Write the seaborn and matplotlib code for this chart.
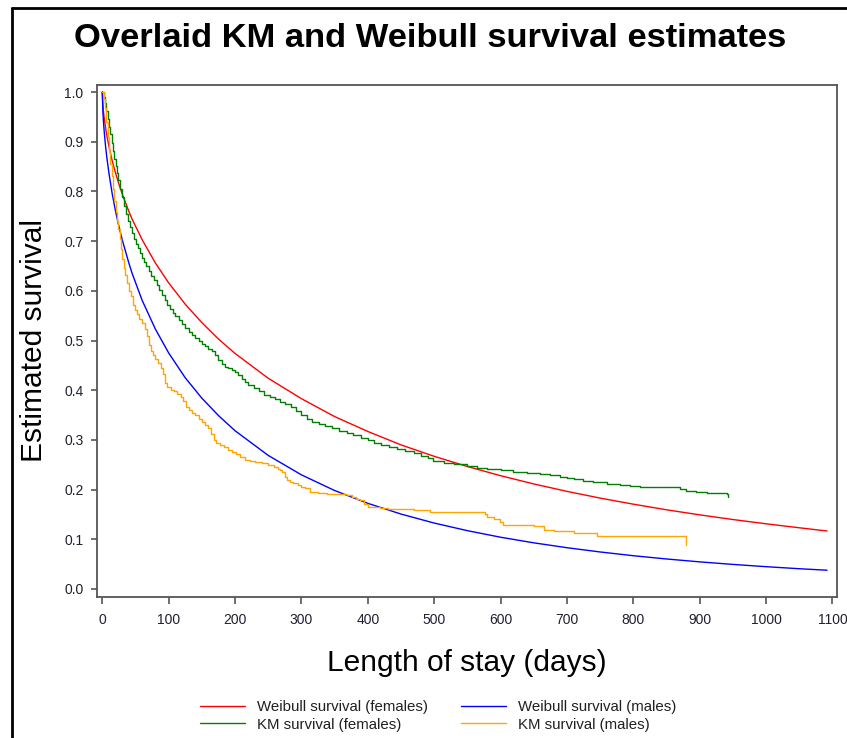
import matplotlib
matplotlib.use("Agg")
import matplotlib.pyplot as plt
from matplotlib.lines import Line2D
import seaborn as sns
import numpy as np
import pandas as pd

# ---------------- data ----------------
wb_time = [0, 1, 2, 3, 5, 7, 10, 15, 20, 25, 30, 40, 45, 60, 80, 100, 125, 150,
           175, 200, 250, 300, 350, 400, 450, 500, 550, 600, 650, 700, 750, 800,
           850, 900, 950, 1000, 1050, 1092]
wb_female = [1.0, 0.973, 0.958, 0.947, 0.928, 0.911, 0.891, 0.861, 0.837, 0.815,
             0.795, 0.760, 0.744, 0.703, 0.656, 0.616, 0.573, 0.536, 0.503, 0.474,
             0.424, 0.383, 0.347, 0.317, 0.290, 0.267, 0.2465, 0.228, 0.2114,
             0.1965, 0.1829, 0.1707, 0.1594, 0.1492, 0.1398, 0.1312, 0.1232, 0.1167]
wb_male = [1.0, 0.958, 0.936, 0.919, 0.890, 0.867, 0.837, 0.795, 0.760, 0.730,
           0.703, 0.656, 0.635, 0.581, 0.523, 0.475, 0.425, 0.384, 0.349, 0.3185,
           0.2688, 0.2297, 0.1982, 0.1724, 0.1508, 0.1327, 0.1174, 0.1042, 0.0929,
           0.0831, 0.0745, 0.0670, 0.0604, 0.0546, 0.0495, 0.0449, 0.0408, 0.0378]

km_f_time = [0, 2, 4, 6, 8, 10, 12, 14, 16, 18, 20, 22, 24, 27, 30, 33, 36, 39,
             42, 45, 48, 51, 54, 57, 60, 63, 66, 70, 74, 78, 82, 86, 90, 94, 98,
             102, 106, 110, 115, 120, 125, 130, 135, 140, 145, 150, 155, 160, 165,
             170, 175, 180, 185, 190, 195, 200, 205, 210, 215, 220, 228, 236, 244,
             252, 260, 268, 276, 284, 292, 300, 308, 316, 326, 336, 346, 356, 368,
             378, 390, 400, 410, 420, 432, 444, 456, 469, 480, 490, 499, 515, 530,
             549, 565, 580, 600, 619, 640, 660, 675, 690, 700, 710, 725, 740, 760,
             780, 795, 810, 870, 880, 895, 911, 941, 943]
km_f_surv = [1.0, 0.99, 0.977, 0.962, 0.945, 0.93, 0.915, 0.898, 0.882, 0.866,
             0.851, 0.837, 0.823, 0.805, 0.789, 0.771, 0.754, 0.741, 0.728, 0.716,
             0.705, 0.695, 0.686, 0.677, 0.667, 0.657, 0.649, 0.639, 0.63, 0.621,
             0.612, 0.601, 0.591, 0.582, 0.572, 0.564, 0.556, 0.55, 0.541, 0.533,
             0.525, 0.518, 0.511, 0.505, 0.499, 0.493, 0.488, 0.483, 0.478, 0.47,
             0.46, 0.452, 0.447, 0.444, 0.441, 0.436, 0.43, 0.423, 0.416, 0.41,
             0.404, 0.398, 0.391, 0.386, 0.382, 0.377, 0.372, 0.366, 0.359, 0.35,
             0.342, 0.336, 0.332, 0.328, 0.323, 0.318, 0.313, 0.309, 0.304, 0.299,
             0.294, 0.29, 0.286, 0.282, 0.278, 0.273, 0.268, 0.263, 0.258, 0.254,
             0.252, 0.2475, 0.244, 0.241, 0.239, 0.236, 0.234, 0.232, 0.229, 0.226,
             0.223, 0.221, 0.218, 0.215, 0.211, 0.209, 0.207, 0.205, 0.2005, 0.198,
             0.196, 0.194, 0.191, 0.185]

km_m_time = [0, 2, 4, 6, 8, 10, 12, 14, 16, 18, 20, 22, 24, 26, 28, 30, 32, 34,
             37, 40, 43, 46, 49, 52, 56, 60, 64, 67, 70, 73, 76, 80, 84, 88, 91,
             94, 98, 103, 108, 113, 118, 122, 126, 130, 135, 140, 145, 150, 155,
             160, 164, 168, 172, 178, 184, 190, 196, 202, 208, 215, 222, 230, 240,
             250, 258, 264, 268, 271, 275, 278, 283, 288, 295, 300, 306, 313, 325,
             338, 368, 376, 383, 389, 395, 401, 410, 419, 430, 449, 470, 494, 576,
             579, 590, 599, 604, 650, 665, 680, 710, 745, 880]
km_m_surv = [1.0, 0.985, 0.968, 0.94, 0.91, 0.882, 0.855, 0.83, 0.805, 0.78,
             0.758, 0.74, 0.724, 0.705, 0.685, 0.664, 0.646, 0.632, 0.615, 0.6,
             0.59, 0.572, 0.562, 0.553, 0.543, 0.535, 0.524, 0.51, 0.49, 0.478,
             0.47, 0.463, 0.455, 0.444, 0.432, 0.415, 0.406, 0.401, 0.398, 0.393,
             0.387, 0.378, 0.366, 0.36, 0.355, 0.35, 0.343, 0.336, 0.33, 0.323,
             0.312, 0.3, 0.294, 0.289, 0.285, 0.28, 0.276, 0.271, 0.265, 0.26,
             0.258, 0.256, 0.253, 0.2495, 0.246, 0.242, 0.2395, 0.236, 0.226,
             0.219, 0.216, 0.2125, 0.209, 0.206, 0.2025, 0.196, 0.193, 0.1905,
             0.189, 0.186, 0.182, 0.179, 0.172, 0.1655, 0.164, 0.162, 0.161, 0.16,
             0.158, 0.1555, 0.151, 0.1455, 0.14, 0.1355, 0.129, 0.127, 0.119,
             0.117, 0.112, 0.1065, 0.088]

labels = ["Weibull survival (females)", "KM survival (females)",
          "Weibull survival (males)", "KM survival (males)"]
colors = ["#ff0000", "#008000", "#0000ff", "#ffa500"]

x_ticks = list(range(0, 1101, 100))
y_ticks = [round(v * 0.1, 1) for v in range(0, 11)]

# ---------------- figure ----------------
sns.set_style("white")
plt.rcParams["font.family"] = ["Liberation Sans", "DejaVu Sans"]
plt.rcParams["text.color"] = "black"

W, H = 847, 738
fig = plt.figure(figsize=(W / 100, H / 100), dpi=100)
ax = fig.add_axes([97.3 / W, 1 - 596.7 / H, 740 / W, 512 / H])

common = dict(ax=ax, estimator=None, sort=False, linewidth=1.0)
sns.lineplot(x=wb_time, y=wb_female, color=colors[0], label=labels[0], **common)
sns.lineplot(x=km_f_time, y=km_f_surv, color=colors[1], label=labels[1],
             drawstyle="steps-post", **common)
sns.lineplot(x=wb_time, y=wb_male, color=colors[2], label=labels[2], **common)
sns.lineplot(x=km_m_time, y=km_m_surv, color=colors[3], label=labels[3],
             drawstyle="steps-post", **common)

ax.set_xlim(-7.5, 1107.4)
ax.set_ylim(-0.0155, 1.0147)
ax.set_xticks(x_ticks)
ax.set_yticks(y_ticks)
ax.set_xticklabels([str(v) for v in x_ticks])
ax.set_yticklabels([f"{v:.1f}" for v in y_ticks])

for s in ax.spines.values():
    s.set_color("#555555")
    s.set_linewidth(1.3)
ax.tick_params(axis="both", direction="out", length=5, width=1.2,
               color="#555555", labelsize=10, labelcolor="#202030",
               bottom=True, left=True)
ax.tick_params(axis="x", pad=7)
ax.tick_params(axis="y", pad=6, length=4)

ax.set_xlabel("Length of stay (days)", fontsize=21.5, color="black")
ax.set_ylabel("Estimated survival", fontsize=21.5, color="black")
ax.xaxis.set_label_coords(0.5, (596.7 - 663) / 512)
ax.xaxis.label.set_va("center")
ax.yaxis.set_label_coords((34 - 97.3) / 740, 0.5)
ax.yaxis.label.set_va("center")

ax.get_legend().remove()
handles = [Line2D([0], [0], color=c, lw=1.0) for c in colors]
leg = fig.legend(handles, labels, ncol=2, loc="center left",
                 bbox_to_anchor=(200 / W, 1 - 716 / H), frameon=False,
                 fontsize=10.8, handlelength=3.0, handletextpad=0.8,
                 columnspacing=2.2, labelspacing=0.2, borderpad=0,
                 borderaxespad=0)
for t in leg.get_texts():
    t.set_color("#202020")

fig.text(430 / W, 1 - 47 / H, "Overlaid KM and Weibull survival estimates",
         ha="center", va="baseline", fontsize=24.8, fontweight="bold",
         color="black")

# outer frame (left and top edges visible)
fig.add_artist(Line2D([12 / W, 12 / W], [0, 1 - 8 / H], color="black", lw=2,
                      transform=fig.transFigure))
fig.add_artist(Line2D([12 / W, 1], [1 - 8 / H, 1 - 8 / H], color="black", lw=2,
                      transform=fig.transFigure))

fig.savefig("out.png", dpi=100)
